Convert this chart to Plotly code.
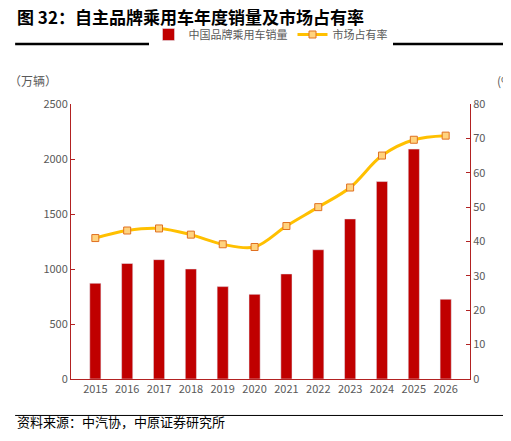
import plotly.graph_objects as go

years = ['2015', '2016', '2017', '2018', '2019', '2020', '2021', '2022', '2023', '2024', '2025', '2026']
sales = [870, 1050, 1085, 1000, 840, 770, 955, 1175, 1455, 1795, 2090, 725]
share = [41.0, 43.2, 43.8, 42.0, 39.2, 38.4, 44.5, 50.0, 55.7, 65.0, 69.6, 70.8]

FONT = 'Noto Sans CJK SC'
RED = '#C00000'
AX = '#B22222'

fig = go.Figure()
fig.add_trace(go.Bar(x=years, y=sales, name='中国品牌乘用车销量', marker_color=RED, width=0.35))
fig.add_trace(go.Scatter(x=years, y=share, name='市场占有率', yaxis='y2', mode='lines+markers',
                         line=dict(color='#FFC000', width=3, shape='spline'),
                         marker=dict(symbol='square', size=7, color='#FFD37F',
                                     line=dict(color='#E07020', width=1))))

fig.update_layout(
    width=511, height=441, plot_bgcolor='white', paper_bgcolor='white',
    margin=dict(l=63, r=49, t=92, b=70),
    font=dict(family=FONT, size=11, color='#595959'),
    showlegend=True,
    legend=dict(orientation='h', x=0.5, xanchor='center', y=1.2, yanchor='bottom',
                font=dict(size=11, color='#595959')),
    xaxis=dict(showline=True, linecolor=AX, ticks='', tickfont=dict(size=11)),
    yaxis=dict(range=[0, 2500], dtick=500, showgrid=False, showline=True, linecolor=AX,
               ticks='inside', tickcolor=AX, ticklen=4, zeroline=False),
    yaxis2=dict(range=[0, 80], dtick=10, overlaying='y', side='right', showgrid=False,
                showline=True, linecolor=AX, ticks='inside', tickcolor=AX, ticklen=4),
    bargap=0.5,
)

# 标题、单位、来源
fig.add_annotation(text='<b>图 32：自主品牌乘用车年度销量及市场占有率</b>', xref='paper', yref='paper',
                   x=-0.14, y=1.0, yshift=88, xanchor='left', yanchor='middle', showarrow=False,
                   font=dict(size=17, color='black', family=FONT))
fig.add_annotation(text='（万辆）', xref='paper', yref='paper', x=-0.16, y=1.0, yshift=34,
                   xanchor='left', showarrow=False, font=dict(size=12))
fig.add_annotation(text='(%)', xref='paper', yref='paper', x=1.12, y=1.0, yshift=34,
                   xanchor='right', showarrow=False, font=dict(size=12))
fig.add_annotation(text='资料来源：中汽协，中原证券研究所', xref='paper', yref='paper',
                   x=-0.14, y=0, yshift=-54, xanchor='left', showarrow=False,
                   font=dict(size=13, color='black'))
fig.add_shape(type='line', xref='paper', yref='paper', x0=-0.14, x1=1.12, y0=1.2186, y1=1.2186,
              line=dict(color='black', width=2.5))
fig.add_shape(type='line', xref='paper', yref='paper', x0=-0.14, x1=1.12, y0=-0.1326, y1=-0.1326,
              line=dict(color='black', width=1))

fig.write_html('out.html')
